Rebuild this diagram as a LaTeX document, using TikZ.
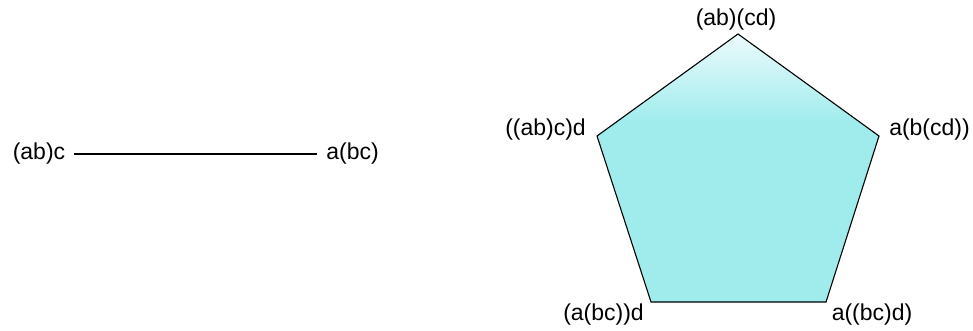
\documentclass[tikz,border=0pt]{standalone}
\usepackage{fontspec}
\setmainfont{Liberation Sans}
\definecolor{penta}{RGB}{160,236,237}
\definecolor{pentatop}{RGB}{236,250,252}
\begin{document}
\begin{tikzpicture}[x=1pt,y=-1pt,
  lbl/.style={inner sep=0pt,font=\fontsize{23}{27}\selectfont},
  edge/.style={draw=black,line width=1.1pt}]
\useasboundingbox (0,0) rectangle (973,331);
% left: line
\node[lbl,inner xsep=9pt] (l) at (39,154) {(ab)c};
\node[lbl,inner xsep=9pt] (r) at (352.5,154) {a(bc)};
\draw[edge] (l.east) -- (r.west);
% pentagon vertices
\coordinate (t) at (738,34);
\coordinate (ul) at (597,136);
\coordinate (ur) at (879,136);
\coordinate (ll) at (651,302);
\coordinate (lr) at (826,302);
\fill[penta] (t) -- (ur) -- (lr) -- (ll) -- (ul) -- cycle;
\begin{scope}
  \clip (t) -- (ur) -- (lr) -- (ll) -- (ul) -- cycle;
  \shade[top color=pentatop,bottom color=penta] (590,34) rectangle (890,122);
\end{scope}
\draw[edge,line join=miter] (t) -- (ur) -- (lr) -- (ll) -- (ul) -- cycle;
% labels
\node[lbl] (nt) at (736,20) {(ab)(cd)};
\node[lbl] (nul) at (545.5,130) {((ab)c)d};
\node[lbl] (nur) at (929.5,130) {a(b(cd))};
\node[lbl] (nll) at (603.5,315) {(a(bc))d};
\node[lbl] (nlr) at (872,315) {a((bc)d)};
\end{tikzpicture}
\end{document}
